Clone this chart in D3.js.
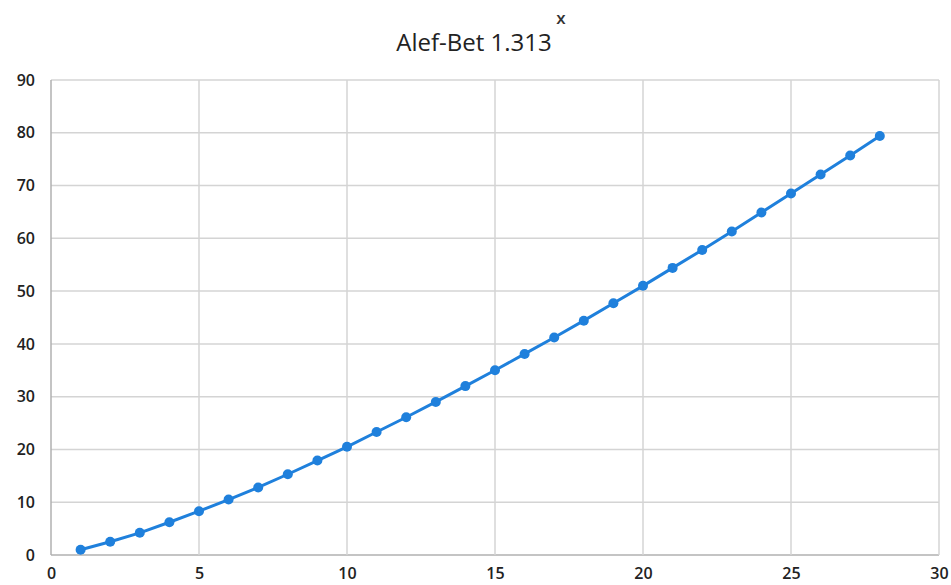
<!DOCTYPE html>
<html><head><meta charset="utf-8">
<script src="https://cdn.jsdelivr.net/npm/d3@7"></script>
<style>body{margin:0;background:#fff}svg{display:block}</style>
</head><body>
<svg id="c" width="951" height="585"></svg>
<script>
const xValues = [1,2,3,4,5,6,7,8,9,10,11,12,13,14,15,16,17,18,19,20,21,22,23,24,25,26,27,28];
const yValues = [1.0,2.5,4.2,6.2,8.3,10.5,12.8,15.3,17.9,20.5,23.3,26.1,29.0,32.0,35.0,38.1,41.2,44.4,47.7,51.0,54.4,57.8,61.3,64.9,68.5,72.1,75.7,79.4];
const xTicks = [0,5,10,15,20,25,30];
const yTicks = [0,10,20,30,40,50,60,70,80,90];
const titleText = "Alef-Bet 1.313";
const titleSup = "x";

const svg = d3.select("#c");
const x = d3.scaleLinear().domain([0,30]).range([51,939]);
const y = d3.scaleLinear().domain([0,90]).range([555,80]);

const grid = svg.append("g");
grid.selectAll("line.h").data(yTicks).join("line")
  .attr("x1",x(0)).attr("x2",x(30)).attr("y1",d=>y(d)).attr("y2",d=>y(d))
  .attr("stroke",d=>d===0?"#b0b0b0":"#d4d4d4").attr("stroke-width",1.5);
grid.selectAll("line.v").data(xTicks).join("line")
  .attr("y1",y(0)).attr("y2",y(90)).attr("x1",d=>x(d)).attr("x2",d=>x(d))
  .attr("stroke",d=>d===0?"#b0b0b0":"#d4d4d4").attr("stroke-width",1.5);

const font = "'Open Sans', 'Liberation Sans', sans-serif";
const yAxis = d3.axisLeft(y).tickValues(yTicks).tickSize(0).tickPadding(16);
const ga = svg.append("g").attr("transform",`translate(${x(0)},0)`).call(yAxis);
ga.select(".domain").remove();
ga.selectAll("text").attr("font-family",font).attr("font-size",16).attr("font-weight",600).attr("fill","#222");

const xAxis = d3.axisBottom(x).tickValues(xTicks).tickSize(0).tickPadding(13);
const gx = svg.append("g").attr("transform",`translate(0,${y(0)})`).call(xAxis);
gx.select(".domain").remove();
gx.selectAll("text").attr("font-family",font).attr("font-size",16).attr("font-weight",600).attr("fill","#222");

const data = xValues.map((v,i)=>[v,yValues[i]]);
svg.append("path").datum(data)
  .attr("d",d3.line().x(d=>x(d[0])).y(d=>y(d[1])))
  .attr("fill","none").attr("stroke","#1f80dc").attr("stroke-width",3);
svg.selectAll("circle.p").data(data).join("circle")
  .attr("cx",d=>x(d[0])).attr("cy",d=>y(d[1])).attr("r",5)
  .attr("fill","#1f80dc");

svg.append("text").attr("x",474).attr("y",51).attr("text-anchor","middle")
  .attr("font-family",font).attr("font-size",24).attr("fill","#222")
  .text(titleText);
svg.append("text").attr("x",561).attr("y",24).attr("text-anchor","middle")
  .attr("font-family",font).attr("font-size",17).attr("font-weight",600).attr("fill","#333")
  .text(titleSup);
</script>
</body></html>
